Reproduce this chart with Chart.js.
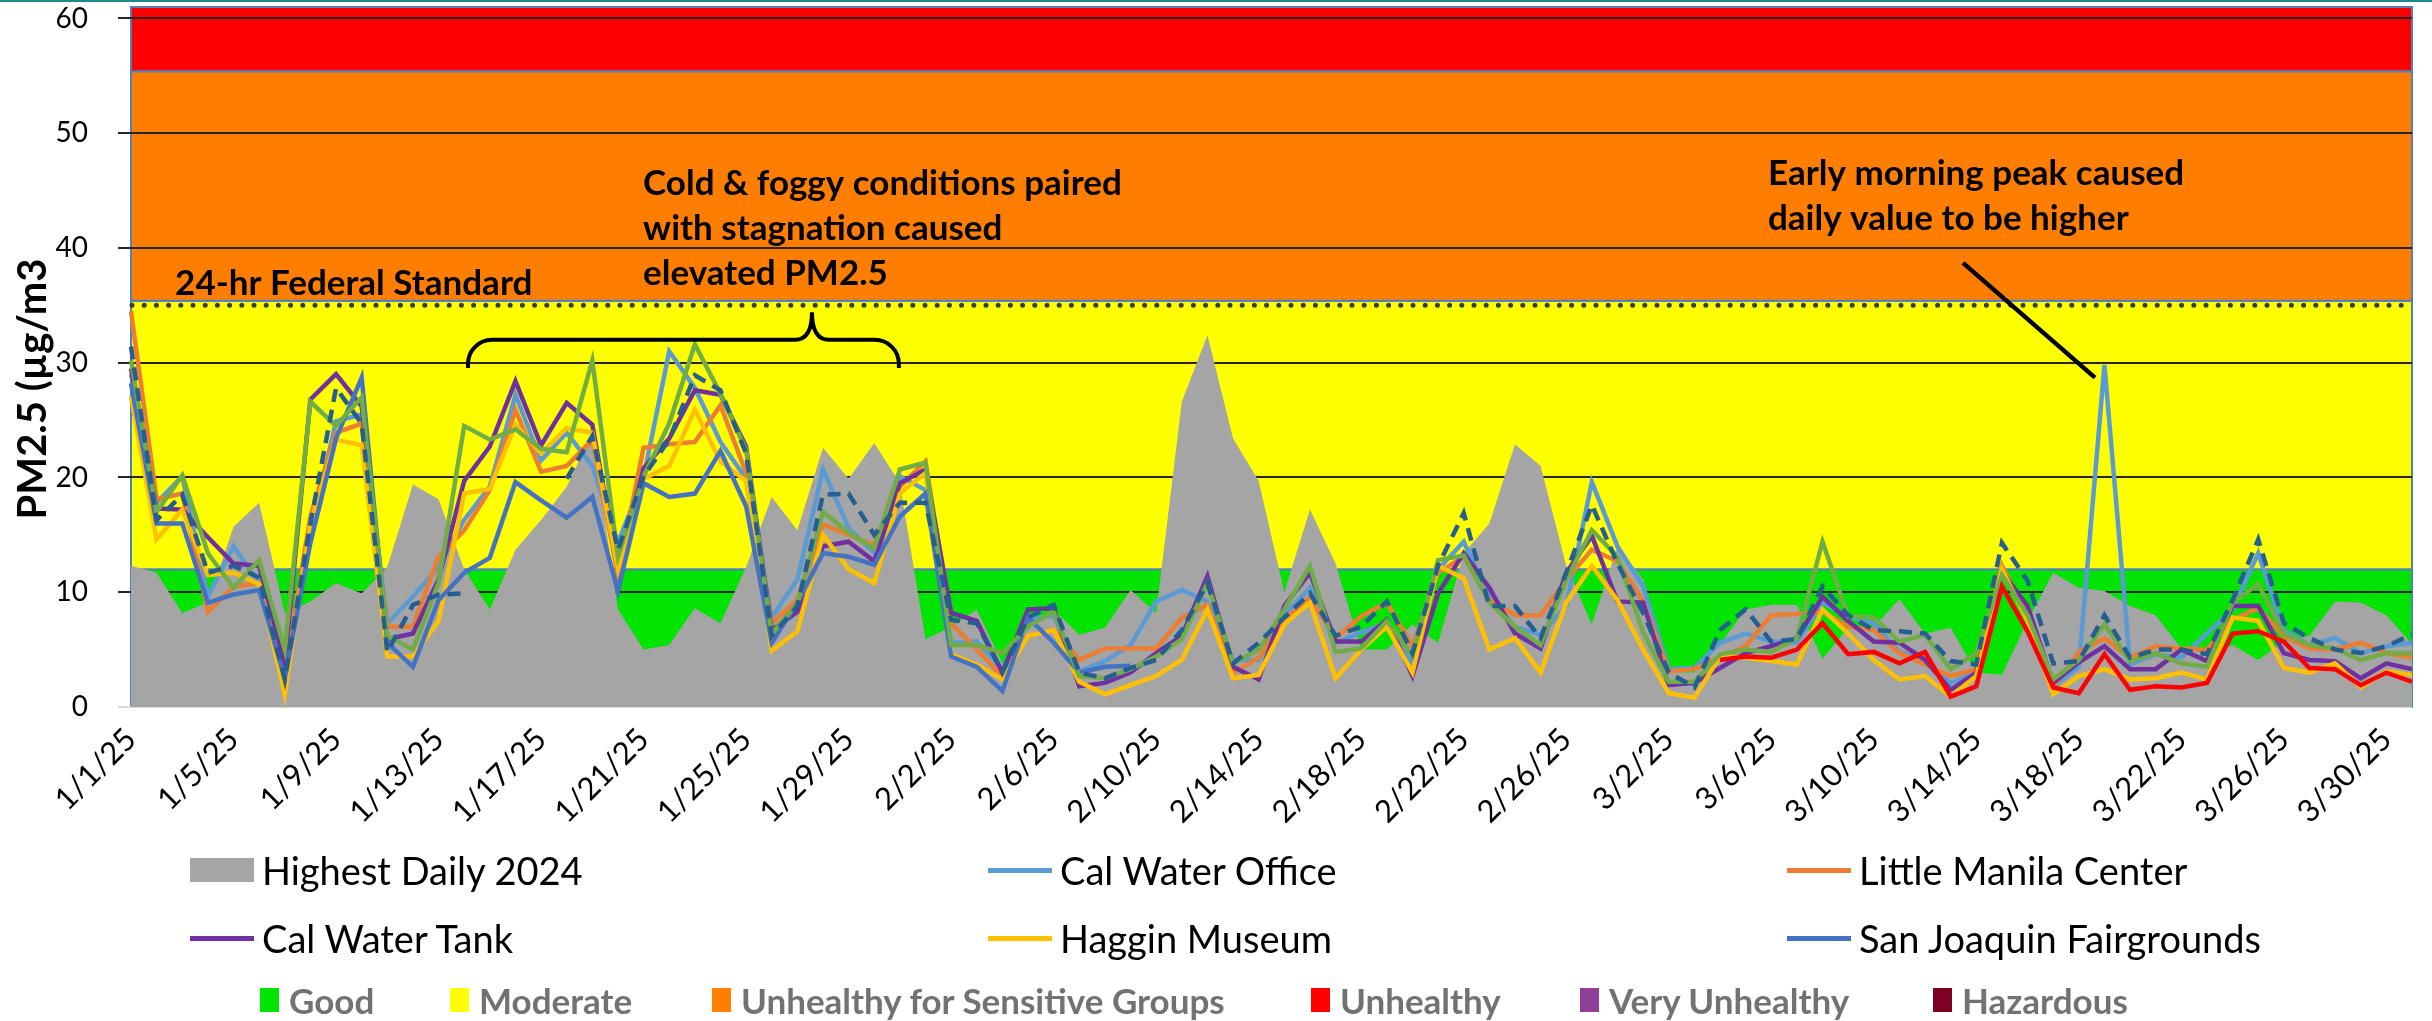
<!DOCTYPE html>
<html lang="en">
<head>
<meta charset="UTF-8" />
<title>PM2.5 Daily Averages, Jan-Mar 2025</title>
<script src="https://cdn.jsdelivr.net/npm/chart.js@4.4.1/dist/chart.umd.min.js"></script>
<style>
  body { margin: 0; background: #fff; }
  .wrap { position: relative; width: 2432px; height: 1021px; overflow: hidden; font-family: Lato, "Liberation Sans", sans-serif; }
  .topbar { position: absolute; left: 0; top: 0; width: 100%; height: 2px; background: #1d8a8a; }
  .item { position: absolute; display: flex; align-items: center; white-space: nowrap; transform: translateY(-50%); }
  .item.series { font-size: 38px; color: #000; }
  .item.aqi { font-size: 35px; font-weight: bold; color: #727272; }
  .icon { flex: none; margin-right: 8px; }
</style>
</head>
<body>
<div class="wrap">
  <canvas id="pmChart" width="2432" height="1021"></canvas>
  <div class="topbar"></div>
  <div id="legend"></div>
</div>
<script>
const dates = [
  '1/1/25','1/2/25','1/3/25','1/4/25','1/5/25','1/6/25','1/7/25','1/8/25','1/9/25','1/10/25',
  '1/11/25','1/12/25','1/13/25','1/14/25','1/15/25','1/16/25','1/17/25','1/18/25','1/19/25','1/20/25',
  '1/21/25','1/22/25','1/23/25','1/24/25','1/25/25','1/26/25','1/27/25','1/28/25','1/29/25','1/30/25',
  '1/31/25','2/1/25','2/2/25','2/3/25','2/4/25','2/5/25','2/6/25','2/7/25','2/8/25','2/9/25',
  '2/10/25','2/11/25','2/12/25','2/13/25','2/14/25','2/15/25','2/16/25','2/17/25','2/18/25','2/19/25',
  '2/20/25','2/21/25','2/22/25','2/23/25','2/24/25','2/25/25','2/26/25','2/27/25','2/28/25','3/1/25',
  '3/2/25','3/3/25','3/4/25','3/5/25','3/6/25','3/7/25','3/8/25','3/9/25','3/10/25','3/11/25',
  '3/12/25','3/13/25','3/14/25','3/15/25','3/16/25','3/17/25','3/18/25','3/19/25','3/20/25','3/21/25',
  '3/22/25','3/23/25','3/24/25','3/25/25','3/26/25','3/27/25','3/28/25','3/29/25','3/30/25','3/31/25'
];

const highest2024 = [
  12.3, 11.7, 8.2, 9.1, 15.7, 17.8, 8.2, 9.2, 10.8, 9.9,
  12.2, 19.4, 18.1, 12.0, 8.5, 13.7, 16.3, 19.2, 23.9, 8.5,
  5.0, 5.4, 8.6, 7.3, 12.2, 18.3, 15.4, 22.6, 19.9, 23.0,
  19.5, 5.9, 7.0, 8.5, 3.8, 7.3, 8.5, 6.3, 6.9, 10.2,
  8.2, 26.6, 32.4, 23.4, 19.7, 10.0, 17.2, 12.5, 5.0, 5.0,
  7.2, 5.6, 13.4, 16.0, 22.9, 21.0, 12.3, 7.2, 14.0, 11.1,
  3.0, 3.0, 5.5, 8.5, 8.9, 8.9, 4.2, 6.9, 7.0, 9.4,
  6.4, 6.9, 3.0, 2.8, 7.5, 11.7, 10.4, 10.1, 8.8, 8.0,
  5.1, 4.7, 5.4, 4.1, 5.7, 6.2, 9.2, 9.1, 8.0, 5.5
];

const calWaterOffice = [
  29.0, 17.8, 20.1, 9.6, 14.0, 10.8, 3.5, 15.0, 24.9, 25.5,
  7.3, 9.6, 12.2, 16.3, 19.2, 27.2, 21.5, 23.9, 21.0, 14.3,
  20.0, 31.0, 27.8, 23.1, 19.9, 7.8, 11.1, 20.7, 15.6, 13.4,
  20.1, 18.9, 5.6, 5.7, 3.3, 7.6, 8.0, 3.1, 4.0, 5.4,
  9.2, 10.2, 9.2, 4.1, 4.1, 8.0, 10.4, 5.6, 6.5, 7.3,
  3.8, 12.0, 14.4, 9.6, 7.0, 6.3, 8.8, 19.6, 14.0, 10.5,
  3.3, 3.4, 5.6, 6.4, 5.7, 5.6, 9.1, 7.9, 7.3, 4.8,
  4.1, 2.1, 3.0, 11.8, 8.0, 1.8, 3.5, 29.8, 3.7, 4.6,
  4.3, 6.4, 8.5, 13.4, 6.7, 5.4, 6.0, 4.7, 5.3, 5.6
];

const littleManila = [
  34.5, 18.1, 18.6, 8.3, 10.5, 10.8, 3.0, 16.6, 23.9, 24.7,
  7.0, 7.0, 13.1, 15.4, 18.9, 25.9, 20.5, 21.0, 23.3, 11.5,
  22.6, 22.9, 23.1, 26.3, 20.4, 7.3, 9.3, 15.9, 15.0, 14.1,
  19.2, 21.4, 7.3, 5.0, 2.7, 6.2, 6.7, 4.1, 5.1, 5.1,
  5.1, 7.8, 8.9, 3.0, 4.3, 7.6, 9.5, 6.0, 7.9, 9.1,
  5.3, 11.7, 13.1, 9.3, 8.0, 8.0, 11.1, 13.7, 12.7, 9.2,
  3.1, 3.3, 4.3, 5.3, 8.0, 8.1, 8.3, 7.0, 6.7, 4.7,
  3.7, 2.7, 3.3, 12.3, 8.0, 1.7, 4.8, 6.0, 4.3, 5.3,
  5.1, 5.0, 7.6, 8.6, 6.2, 5.1, 5.0, 5.6, 4.7, 4.3
];

const calWaterTank = [
  29.5, 17.3, 17.2, 14.8, 12.5, 12.3, 3.8, 26.8, 29.0, 26.2,
  5.9, 6.4, 11.1, 19.7, 22.7, 28.4, 22.8, 26.5, 24.6, 12.0,
  20.8, 23.4, 27.6, 27.2, 22.7, 6.7, 8.3, 14.0, 14.4, 12.7,
  19.5, 20.7, 8.2, 7.5, 3.0, 8.5, 8.6, 1.8, 2.1, 3.0,
  4.7, 6.2, 11.4, 3.5, 2.4, 8.8, 11.7, 5.7, 5.7, 7.6,
  2.7, 9.9, 13.4, 10.4, 6.4, 5.1, 11.7, 14.9, 9.2, 9.1,
  1.9, 2.1, 3.4, 4.7, 5.3, 6.0, 9.6, 7.5, 5.7, 5.6,
  4.1, 1.5, 3.0, 11.8, 8.8, 2.1, 3.9, 5.3, 3.3, 3.3,
  5.0, 4.0, 8.8, 8.8, 4.7, 4.1, 4.0, 2.5, 3.8, 3.3
];

const hagginMuseum = [
  27.1, 14.6, 17.2, 11.5, 11.7, 10.7, 1.1, 16.0, 23.3, 22.8,
  4.4, 4.4, 7.5, 18.6, 19.0, 24.6, 22.1, 24.3, 23.9, 12.0,
  19.9, 21.0, 25.9, 21.4, 19.7, 4.9, 6.6, 15.0, 12.0, 10.8,
  18.6, 20.4, 4.6, 3.7, 2.4, 6.2, 6.7, 2.2, 1.1, 1.9,
  2.7, 4.1, 8.5, 2.5, 2.8, 7.2, 9.1, 2.5, 5.0, 7.0,
  3.0, 12.3, 11.2, 5.0, 6.0, 3.0, 9.1, 12.3, 9.3, 5.0,
  1.2, 0.8, 4.4, 4.3, 4.0, 3.7, 8.5, 6.4, 4.1, 2.4,
  2.7, 0.9, 2.7, 12.0, 7.5, 1.1, 2.7, 3.3, 2.4, 2.5,
  3.0, 2.4, 7.8, 7.5, 3.4, 3.0, 3.8, 1.7, 3.1, 2.8
];

const sjFairgrounds = [
  28.2, 16.0, 16.0, 9.1, 9.8, 10.2, 2.5, 14.3, 23.4, 28.7,
  5.6, 3.5, 9.3, 11.7, 13.0, 19.6, 18.0, 16.5, 18.3, 10.1,
  19.5, 18.3, 18.6, 22.3, 17.5, 5.6, 9.1, 13.4, 13.1, 12.4,
  16.6, 18.6, 4.4, 3.5, 1.4, 7.8, 5.6, 3.0, 3.5, 3.6,
  null, null, null, null, null, null, null, null, null, null,
  null, null, null, null, null, null, null, null, null, null,
  null, null, null, null, null, null, null, null, null, null,
  null, null, null, null, null, null, null, null, null, null,
  null, null, null, null, null, null, null, null, null, null
];

// two more monitors drawn in the plot but not named in the legend
const unlistedGreen = [
  30.2, 17.0, 20.2, 13.4, 10.4, 12.8, 5.0, 26.6, 24.5, 27.0,
  6.2, 5.0, 10.8, 24.5, 23.3, 24.2, 22.5, 22.2, 30.2, 13.1,
  20.1, 24.7, 31.6, 27.3, 22.4, 6.4, 9.0, 17.0, 15.2, 13.8,
  20.7, 21.3, 5.4, 5.4, 4.7, 7.0, 8.3, 2.7, 2.5, 3.3,
  4.4, 5.9, 10.8, 3.8, 5.0, 8.5, 12.3, 4.8, 5.1, 7.5,
  4.5, 12.8, 13.2, 9.1, 7.0, 5.4, 11.1, 15.4, 13.1, 6.5,
  2.2, 2.2, 4.6, 5.0, 4.8, 6.0, 14.4, 7.9, 7.8, 5.7,
  6.3, 3.3, 4.7, 11.5, 8.0, 2.4, 4.1, 7.2, 4.0, 4.7,
  3.8, 3.5, 9.1, 10.7, 6.4, 5.4, 5.1, 4.1, 4.7, 4.7
];

const unlistedDashed = [
  31.4, 16.3, 18.5, 11.7, 12.3, 11.3, 2.4, 16.0, 27.8, 24.7,
  4.8, 8.9, 9.8, 9.9, null, null, null, 19.9, 23.6, 13.7,
  20.1, 23.3, 28.9, 27.6, 22.1, 6.2, 8.8, 18.5, 18.6, 15.0,
  17.8, 17.8, 7.6, 7.3, 3.0, 7.8, 8.9, 3.0, 2.5, 3.4,
  4.1, 6.7, 10.8, 3.8, 5.6, 7.8, 9.9, 6.2, 7.0, 9.2,
  4.7, 12.3, 16.9, 8.8, 8.8, 6.0, 11.7, 17.6, 12.5, 8.2,
  3.0, 1.7, 6.7, 8.5, 5.7, 5.9, 10.5, 8.0, 6.7, 6.6,
  6.4, 4.0, 3.7, 14.3, 11.0, 3.8, 4.0, 8.0, 4.3, 5.0,
  5.0, 4.6, 9.3, 14.6, 7.3, 6.0, 5.0, 4.7, 5.3, 6.3
];

const unlistedRed = [
  null, null, null, null, null, null, null, null, null, null,
  null, null, null, null, null, null, null, null, null, null,
  null, null, null, null, null, null, null, null, null, null,
  null, null, null, null, null, null, null, null, null, null,
  null, null, null, null, null, null, null, null, null, null,
  null, null, null, null, null, null, null, null, null, null,
  null, null, 4.1, 4.4, 4.3, 5.0, 7.3, 4.6, 4.8, 3.8,
  4.8, 0.9, 1.8, 10.5, 6.6, 1.7, 1.2, 4.6, 1.5, 1.8,
  1.7, 2.1, 6.4, 6.6, 5.7, 3.4, 3.3, 1.9, 3.0, 2.2
];

// AQI categories (PM2.5, µg/m3) and the 24-hr standard
const aqiNames = ['Good', 'Moderate', 'Unhealthy for Sensitive Groups', 'Unhealthy', 'Very Unhealthy', 'Hazardous'];
const aqiColors = ['#00E400', '#FFFF00', '#FF7E00', '#FF0000', '#8F3F97', '#7E0023'];
const aqiLower = [0, 12, 35.4, 55.4, 150.4, 250.4];
const federalStandard = 35;

// draws the AQI colour bands behind the grid
const aqiBands = {
  id: 'aqiBands',
  beforeDraw(chart) {
    const { ctx, chartArea: a, scales: { y } } = chart;
    ctx.save();
    aqiLower.forEach((lo, k) => {
      if (lo >= y.max) return;
      const hi = Math.min(k + 1 < aqiLower.length ? aqiLower[k + 1] : y.max, y.max);
      const top = y.getPixelForValue(hi);
      const bottom = y.getPixelForValue(lo);
      ctx.fillStyle = aqiColors[k];
      ctx.fillRect(a.left, top, a.right - a.left, bottom - top);
      ctx.strokeStyle = '#4f81bd';
      ctx.lineWidth = 2;
      ctx.strokeRect(a.left, top, a.right - a.left, bottom - top);
    });
    ctx.restore();
  }
};

// standard line, brace, pointer and callout text
const notes = {
  id: 'notes',
  afterDatasetsDraw(chart) {
    const { ctx, chartArea: a, scales: { x, y } } = chart;
    const px = i => x.getPixelForValue(i);
    const py = v => y.getPixelForValue(v);
    ctx.save();

    const ys = py(federalStandard);
    ctx.strokeStyle = '#3a3a3a';
    ctx.lineWidth = 5;
    ctx.lineCap = 'round';
    ctx.setLineDash([0, 12.2]);
    ctx.beginPath();
    ctx.moveTo(a.left + 1, ys);
    ctx.lineTo(a.right, ys);
    ctx.stroke();
    ctx.setLineDash([]);

    // curly brace over the stagnation period
    const L = px(13.15), R = px(29.96), C = px(26.57);
    const yb = py(29.55), yh = py(32.0), yc = py(34.4);
    const r = 24, c = 17;
    ctx.strokeStyle = '#000';
    ctx.lineWidth = 4;
    ctx.lineCap = 'butt';
    ctx.beginPath();
    ctx.moveTo(L, yb);
    ctx.arcTo(L, yh, L + r, yh, r);
    ctx.lineTo(C - c, yh);
    ctx.quadraticCurveTo(C, yh, C, yc);
    ctx.quadraticCurveTo(C, yh, C + c, yh);
    ctx.lineTo(R - r, yh);
    ctx.arcTo(R, yh, R, yb, r);
    ctx.lineTo(R, yb);
    ctx.stroke();

    // pointer to the 3/19 peak
    ctx.lineWidth = 4.5;
    ctx.beginPath();
    ctx.moveTo(px(71.48), py(38.7));
    ctx.lineTo(px(76.63), py(28.7));
    ctx.stroke();

    ctx.fillStyle = '#000';
    ctx.font = 'bold 35px Lato';
    ctx.textAlign = 'left';
    ctx.textBaseline = 'alphabetic';
    const callouts = [
      { i: 1.72, v: 35.9, lines: ['24-hr Federal Standard'] },
      { i: 19.98, v: 44.6, lines: ['Cold & foggy conditions paired', 'with stagnation caused', 'elevated PM2.5'] },
      { i: 63.87, v: 45.5, lines: ['Early morning peak caused', 'daily value to be higher'] }
    ];
    callouts.forEach(n => n.lines.forEach((t, k) => ctx.fillText(t, px(n.i), py(n.v) + k * 45)));

    ctx.restore();
  },
  afterDraw(chart) {
    const { ctx, chartArea: a } = chart;
    ctx.save();
    ctx.translate(33, (a.top + a.bottom) / 2 + 32);
    ctx.rotate(-Math.PI / 2);
    ctx.font = 'bold 40px Lato';
    ctx.fillStyle = '#000';
    ctx.textAlign = 'center';
    ctx.textBaseline = 'middle';
    ctx.fillText('PM2.5 (µg/m3', 0, 0);
    ctx.restore();
  }
};

Chart.defaults.font.family = 'Lato';
Chart.defaults.color = '#000';

const line = (label, data, color, order, extra) => Object.assign({
  type: 'line', label, data, borderColor: color, backgroundColor: color,
  borderWidth: 4.5, pointRadius: 0, tension: 0, fill: false, spanGaps: false, order
}, extra || {});

const chart = new Chart(document.getElementById('pmChart'), {
  type: 'line',
  data: {
    labels: dates,
    datasets: [
      line('Highest Daily 2024', highest2024, '#A5A5A5', 20, { fill: 'origin', borderWidth: 0 }),
      line('Cal Water Office', calWaterOffice, '#5B9BD5', 8),
      line('Little Manila Center', littleManila, '#ED7D31', 7),
      line('Cal Water Tank', calWaterTank, '#7030A0', 6),
      line('Haggin Museum', hagginMuseum, '#FFC000', 5),
      line('San Joaquin Fairgrounds', sjFairgrounds, '#4472C4', 4),
      line('Unlisted monitor (green)', unlistedGreen, '#70AD47', 3),
      line('Unlisted monitor (dashed)', unlistedDashed, '#255E91', 2, { borderDash: [13, 8] }),
      line('Unlisted monitor (red)', unlistedRed, '#FF0000', 1)
    ]
  },
  options: {
    responsive: false,
    animation: false,
    devicePixelRatio: 1,
    layout: { padding: { top: 7, right: 20, bottom: 184, left: 0 } },
    plugins: { legend: { display: false }, tooltip: { enabled: false } },
    scales: {
      x: {
        offset: false,
        grid: { display: false, drawTicks: false },
        border: { display: false },
        ticks: {
          autoSkip: false, maxRotation: 45, minRotation: 45, padding: 14,
          font: { size: 31 }, color: '#000',
          callback(value, index) { return index % 4 === 0 ? this.getLabelForValue(value) : ''; }
        },
        afterFit(s) { s.height = 130; s.paddingLeft = 0; s.paddingRight = 0; }
      },
      y: {
        min: 0, max: 61,
        border: { display: false },
        grid: {
          color: c => c.tick && c.tick.value === 0 ? '#d9d9d9' : '#262626',
          lineWidth: 2, tickLength: 13
        },
        ticks: { stepSize: 10, includeBounds: false, padding: 30, font: { size: 28 }, color: '#000' },
        afterFit(s) { s.width = 131; s.paddingTop = 0; s.paddingBottom = 0; }
      }
    }
  },
  plugins: [aqiBands, notes]
});

// legend laid out in Excel-style columns, built from the datasets
const legendBox = document.getElementById('legend');
const legendLabels = ['Highest Daily 2024', 'Cal Water Office', 'Little Manila Center', 'Cal Water Tank', 'Haggin Museum', 'San Joaquin Fairgrounds'];
const colX = [190, 988, 1787], rowY = [870, 938];
legendLabels.forEach((name, k) => {
  const ds = chart.data.datasets.find(d => d.label === name);
  const el = document.createElement('div');
  el.className = 'item series';
  el.style.left = colX[k % 3] + 'px';
  el.style.top = rowY[Math.floor(k / 3)] + 'px';
  const icon = document.createElement('span');
  icon.className = 'icon';
  icon.style.width = '64px';
  icon.style.height = ds.fill ? '24px' : '5px';
  icon.style.background = ds.fill ? ds.backgroundColor : ds.borderColor;
  el.appendChild(icon);
  el.appendChild(document.createTextNode(name));
  legendBox.appendChild(el);
});

const aqiX = [260, 450, 712, 1311, 1580, 1933];
aqiNames.forEach((name, k) => {
  const el = document.createElement('div');
  el.className = 'item aqi';
  el.style.left = aqiX[k] + 'px';
  el.style.top = '1000px';
  const sq = document.createElement('span');
  sq.className = 'icon';
  sq.style.width = '19px';
  sq.style.height = '24px';
  sq.style.marginRight = '10px';
  sq.style.background = aqiColors[k];
  el.appendChild(sq);
  el.appendChild(document.createTextNode(name));
  legendBox.appendChild(el);
});
</script>
</body>
</html>
